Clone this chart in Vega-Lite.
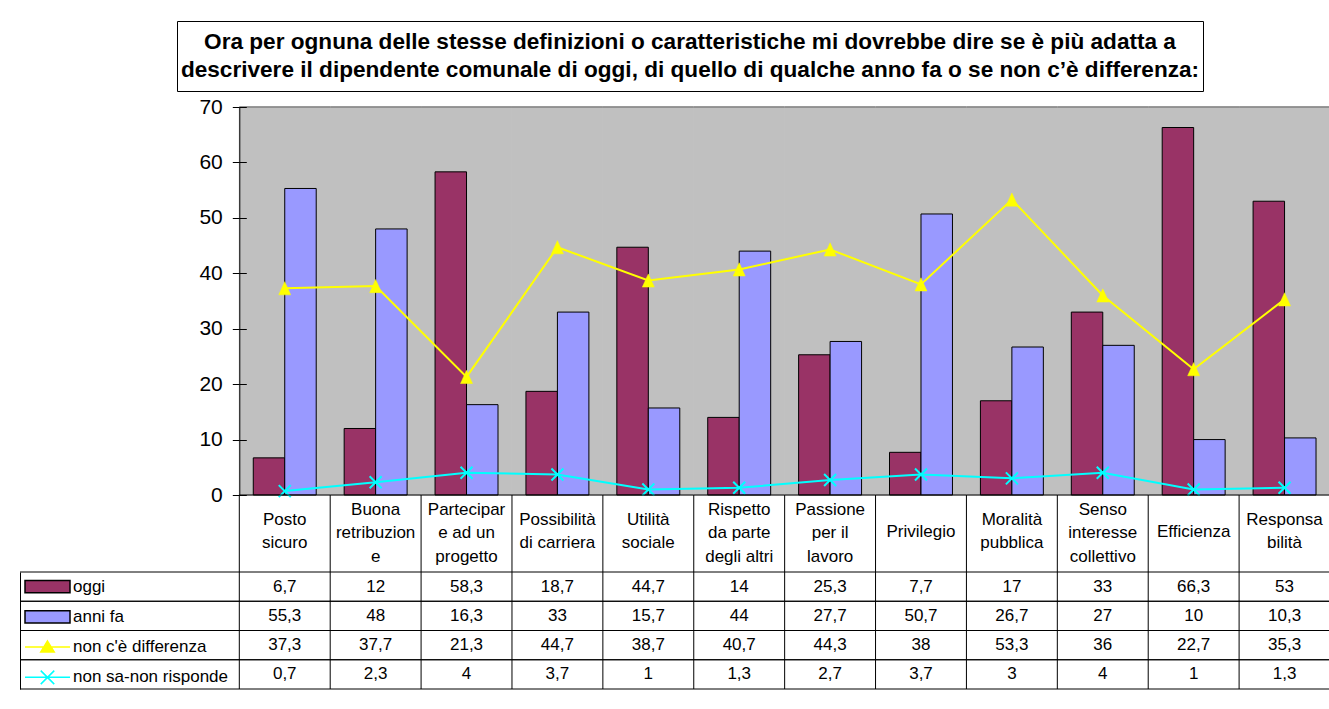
{
  "$schema": "https://vega.github.io/schema/vega-lite/v6.json",
  "padding": {"left": 19, "top": 20, "right": 0, "bottom": 0},
  "background": "white",
  "config": {
    "view": {"stroke": null},
    "font": "Arial",
    "locale": {"number": {"decimal": ",", "thousands": ".", "grouping": [3], "currency": ["€", ""]}}
  },
  "datasets": {
    "t": [
      {"cat": "Posto\nsicuro", "series": "oggi", "value": 6.7},
      {"cat": "Buona\nretribuzion\ne", "series": "oggi", "value": 12},
      {"cat": "Partecipar\ne ad un\nprogetto", "series": "oggi", "value": 58.3},
      {"cat": "Possibilità\ndi carriera", "series": "oggi", "value": 18.7},
      {"cat": "Utilità\nsociale", "series": "oggi", "value": 44.7},
      {"cat": "Rispetto\nda parte\ndegli altri", "series": "oggi", "value": 14},
      {"cat": "Passione\nper il\nlavoro", "series": "oggi", "value": 25.3},
      {"cat": "Privilegio", "series": "oggi", "value": 7.7},
      {"cat": "Moralità\npubblica", "series": "oggi", "value": 17},
      {"cat": "Senso\ninteresse\ncollettivo", "series": "oggi", "value": 33},
      {"cat": "Efficienza", "series": "oggi", "value": 66.3},
      {"cat": "Responsa\nbilità", "series": "oggi", "value": 53},
      {"cat": "Posto\nsicuro", "series": "anni fa", "value": 55.3},
      {"cat": "Buona\nretribuzion\ne", "series": "anni fa", "value": 48},
      {"cat": "Partecipar\ne ad un\nprogetto", "series": "anni fa", "value": 16.3},
      {"cat": "Possibilità\ndi carriera", "series": "anni fa", "value": 33},
      {"cat": "Utilità\nsociale", "series": "anni fa", "value": 15.7},
      {"cat": "Rispetto\nda parte\ndegli altri", "series": "anni fa", "value": 44},
      {"cat": "Passione\nper il\nlavoro", "series": "anni fa", "value": 27.7},
      {"cat": "Privilegio", "series": "anni fa", "value": 50.7},
      {"cat": "Moralità\npubblica", "series": "anni fa", "value": 26.7},
      {"cat": "Senso\ninteresse\ncollettivo", "series": "anni fa", "value": 27},
      {"cat": "Efficienza", "series": "anni fa", "value": 10},
      {"cat": "Responsa\nbilità", "series": "anni fa", "value": 10.3},
      {"cat": "Posto\nsicuro", "series": "non c'è differenza", "value": 37.3},
      {"cat": "Buona\nretribuzion\ne", "series": "non c'è differenza", "value": 37.7},
      {"cat": "Partecipar\ne ad un\nprogetto", "series": "non c'è differenza", "value": 21.3},
      {"cat": "Possibilità\ndi carriera", "series": "non c'è differenza", "value": 44.7},
      {"cat": "Utilità\nsociale", "series": "non c'è differenza", "value": 38.7},
      {"cat": "Rispetto\nda parte\ndegli altri", "series": "non c'è differenza", "value": 40.7},
      {"cat": "Passione\nper il\nlavoro", "series": "non c'è differenza", "value": 44.3},
      {"cat": "Privilegio", "series": "non c'è differenza", "value": 38},
      {"cat": "Moralità\npubblica", "series": "non c'è differenza", "value": 53.3},
      {"cat": "Senso\ninteresse\ncollettivo", "series": "non c'è differenza", "value": 36},
      {"cat": "Efficienza", "series": "non c'è differenza", "value": 22.7},
      {"cat": "Responsa\nbilità", "series": "non c'è differenza", "value": 35.3},
      {"cat": "Posto\nsicuro", "series": "non sa-non risponde", "value": 0.7},
      {"cat": "Buona\nretribuzion\ne", "series": "non sa-non risponde", "value": 2.3},
      {"cat": "Partecipar\ne ad un\nprogetto", "series": "non sa-non risponde", "value": 4},
      {"cat": "Possibilità\ndi carriera", "series": "non sa-non risponde", "value": 3.7},
      {"cat": "Utilità\nsociale", "series": "non sa-non risponde", "value": 1},
      {"cat": "Rispetto\nda parte\ndegli altri", "series": "non sa-non risponde", "value": 1.3},
      {"cat": "Passione\nper il\nlavoro", "series": "non sa-non risponde", "value": 2.7},
      {"cat": "Privilegio", "series": "non sa-non risponde", "value": 3.7},
      {"cat": "Moralità\npubblica", "series": "non sa-non risponde", "value": 3},
      {"cat": "Senso\ninteresse\ncollettivo", "series": "non sa-non risponde", "value": 4},
      {"cat": "Efficienza", "series": "non sa-non risponde", "value": 1},
      {"cat": "Responsa\nbilità", "series": "non sa-non risponde", "value": 1.3}
    ]
  },
  "spacing": 4,
  "bounds": "full",
  "vconcat": [
    {
      "spacing": 0,
      "bounds": "flush",
      "hconcat": [
        {
          "width": 157, "height": 70,
          "data": {"values": [{}]},
          "mark": {"type": "point", "opacity": 0}
        },
        {
          "width": 1026, "height": 70,
          "view": {"stroke": "black", "strokeWidth": 1, "fill": "white"},
          "data": {"values": [{"t": "Ora per ognuna delle stesse definizioni o caratteristiche mi dovrebbe dire se è più adatta a\ndescrivere il dipendente comunale di oggi, di quello di qualche anno fa o se non c’è differenza:"}]},
          "mark": {"type": "text", "font": "Arial", "fontSize": 22.6, "fontWeight": "bold", "lineBreak": "\n", "lineHeight": 28, "align": "center", "baseline": "middle", "dy": -14, "color": "black"},
          "encoding": {"text": {"field": "t", "type": "nominal"}}
        }
      ]
    },
    {
      "spacing": 0,
      "bounds": "flush",
      "resolve": {
        "scale": {"fill": "independent", "stroke": "independent", "shape": "independent"},
        "legend": {"fill": "independent", "stroke": "independent", "shape": "independent"}
      },
      "vconcat": [
        {
          "width": 1310, "height": 388,
          "data": {"name": "t"},
          "encoding": {
            "x": {"field": "cat", "type": "nominal", "axis": null,
                  "scale": {"domain": ["Posto\nsicuro", "Buona\nretribuzion\ne", "Partecipar\ne ad un\nprogetto", "Possibilità\ndi carriera", "Utilità\nsociale", "Rispetto\nda parte\ndegli altri", "Passione\nper il\nlavoro", "Privilegio", "Moralità\npubblica", "Senso\ninteresse\ncollettivo", "Efficienza", "Responsa\nbilità"], "paddingInner": 0, "paddingOuter": 0, "range": [219.3, 1310]}}
          },
          "resolve": {"scale": {"y": "independent"}, "axis": {"y": "independent"}},
          "layer": [
            {
              "layer": [
                {
                  "transform": [{"filter": "datum.series === 'oggi'"}],
                  "mark": {"type": "rect", "fill": "#C0C0C0", "stroke": "#C0C0C0", "strokeWidth": 1},
                  "encoding": {
                    "y": {"datum": 70, "type": "quantitative",
                          "scale": {"domain": [0, 70], "nice": false, "zero": true},
                          "axis": {"orient": "left", "offset": -219.3, "values": [0, 10, 20, 30, 40, 50, 60, 70], "tickSize": 7, "labelPadding": 10, "labelFontSize": 21, "labelFont": "Arial", "labelColor": "black", "domainColor": "black", "tickColor": "black", "grid": false, "title": null, "zindex": 1, "labelFlush": false}},
                    "y2": {"datum": 0}
                  }
                },
                {
                  "transform": [{"filter": "datum.series === 'oggi'"}],
                  "mark": {"type": "rule", "stroke": "#808080", "strokeWidth": 1.5},
                  "encoding": {
                    "x": {"field": "cat", "type": "nominal", "bandPosition": 0},
                    "x2": {"field": "cat", "bandPosition": 1},
                    "y": {"datum": 70, "type": "quantitative"}
                  }
                },
                {
                  "transform": [{"filter": "datum.series === 'oggi' || datum.series === 'anni fa'"}],
                  "mark": {"type": "bar", "stroke": "black", "strokeWidth": 1},
                  "encoding": {
                    "xOffset": {"field": "series", "type": "nominal", "scale": {"domain": ["oggi", "anni fa"], "paddingInner": 0, "paddingOuter": 0.444}},
                    "y": {"field": "value", "type": "quantitative"},
                    "fill": {"condition": {"test": "datum.series === 'oggi'", "value": "#993366"}, "value": "#9999FF"}
                  }
                },
                {
                  "transform": [{"filter": "datum.series === \"non c'è differenza\""}],
                  "mark": {"type": "line", "stroke": "#FFFF00", "strokeWidth": 2},
                  "encoding": {"y": {"field": "value", "type": "quantitative"}, "order": {"value": null}}
                },
                {
                  "transform": [{"filter": "datum.series === \"non c'è differenza\""}],
                  "mark": {"type": "point", "shape": "M0,-1.1L1,1.1L-1,1.1Z", "filled": true, "fill": "#FFFF00", "stroke": "#FFFF00", "strokeWidth": 0.5, "size": 144, "opacity": 1},
                  "encoding": {"y": {"field": "value", "type": "quantitative"}}
                },
                {
                  "transform": [{"filter": "datum.series === 'non sa-non risponde'"}],
                  "mark": {"type": "line", "stroke": "#00FFFF", "strokeWidth": 2},
                  "encoding": {"y": {"field": "value", "type": "quantitative"}, "order": {"value": null}}
                },
                {
                  "transform": [{"filter": "datum.series === 'non sa-non risponde'"}],
                  "mark": {"type": "point", "shape": "M-1,-1L1,1M-1,1L1,-1", "filled": false, "stroke": "#00FFFF", "strokeWidth": 2, "size": 144, "opacity": 1},
                  "encoding": {"y": {"field": "value", "type": "quantitative"}}
                }
              ]
            },
            {
              "transform": [{"filter": "datum.series === 'oggi'"}],
              "mark": {"type": "rule", "stroke": "black", "strokeWidth": 1},
              "encoding": {
                "x": {"field": "cat", "type": "nominal", "bandPosition": 0},
                "x2": {"field": "cat", "bandPosition": 1},
                "y": {"datum": 0, "type": "quantitative",
                      "scale": {"domain": [0, 70], "nice": false, "zero": true},
                      "axis": {"orient": "left", "offset": -219.3, "values": [0, 10, 20, 30, 40, 50, 60, 70], "tickSize": -7, "labels": false, "domain": false, "tickColor": "black", "grid": false, "title": null, "zindex": 1}}
              }
            }
          ]
        },
        {
          "width": 1310, "height": 77,
          "data": {"name": "t"},
          "transform": [{"filter": "datum.series === 'oggi'"}],
          "encoding": {
            "x": {"field": "cat", "type": "nominal", "axis": null,
                  "scale": {"domain": ["Posto\nsicuro", "Buona\nretribuzion\ne", "Partecipar\ne ad un\nprogetto", "Possibilità\ndi carriera", "Utilità\nsociale", "Rispetto\nda parte\ndegli altri", "Passione\nper il\nlavoro", "Privilegio", "Moralità\npubblica", "Senso\ninteresse\ncollettivo", "Efficienza", "Responsa\nbilità"], "paddingInner": 0, "paddingOuter": 0, "range": [219.3, 1310]}}
          },
          "layer": [
            {
              "mark": {"type": "rule", "stroke": "black", "strokeWidth": 1},
              "encoding": {"x": {"field": "cat", "type": "nominal", "bandPosition": 0}}
            },
            {
              "transform": [{"filter": "length(split(datum.cat, '\\n')) === 1"}],
              "mark": {"type": "text", "font": "Arial", "fontSize": 17, "lineBreak": "\n", "lineHeight": 23, "align": "center", "baseline": "middle", "dy": -2, "color": "black"},
              "encoding": {"text": {"field": "cat", "type": "nominal"}}
            },
            {
              "transform": [{"filter": "length(split(datum.cat, '\\n')) === 2"}],
              "mark": {"type": "text", "font": "Arial", "fontSize": 17, "lineBreak": "\n", "lineHeight": 23, "align": "center", "baseline": "middle", "dy": -13.5, "color": "black"},
              "encoding": {"text": {"field": "cat", "type": "nominal"}}
            },
            {
              "transform": [{"filter": "length(split(datum.cat, '\\n')) === 3"}],
              "mark": {"type": "text", "font": "Arial", "fontSize": 17, "lineBreak": "\n", "lineHeight": 23.5, "align": "center", "baseline": "middle", "dy": -24, "color": "black"},
              "encoding": {"text": {"field": "cat", "type": "nominal"}}
            }
          ]
        },
        {
          "width": 1310, "height": 117,
          "data": {"name": "t"},
          "layer": [
            {
              "transform": [{"filter": "datum.series === 'oggi'"}],
              "mark": {"type": "rule", "stroke": "black", "strokeWidth": 1},
              "encoding": {
                "x": {"field": "cat", "type": "nominal", "bandPosition": 0, "axis": null,
                      "scale": {"domain": ["Posto\nsicuro", "Buona\nretribuzion\ne", "Partecipar\ne ad un\nprogetto", "Possibilità\ndi carriera", "Utilità\nsociale", "Rispetto\nda parte\ndegli altri", "Passione\nper il\nlavoro", "Privilegio", "Moralità\npubblica", "Senso\ninteresse\ncollettivo", "Efficienza", "Responsa\nbilità"], "paddingInner": 0, "paddingOuter": 0, "range": [219.3, 1310]}}
              }
            },
            {
              "transform": [{"filter": "datum.cat === 'Efficienza'"}],
              "mark": {"type": "rule", "stroke": "black", "strokeWidth": 1},
              "encoding": {
                "y": {"field": "series", "type": "nominal", "bandPosition": 0,
                      "scale": {"domain": ["oggi", "anni fa", "non c'è differenza", "non sa-non risponde"], "paddingInner": 0, "paddingOuter": 0},
                      "axis": {"domain": true, "domainColor": "black", "domainWidth": 1, "labels": false, "ticks": false, "grid": false, "title": null}}
              }
            },
            {
              "transform": [{"filter": "datum.cat === 'Efficienza'"}],
              "mark": {"type": "rule", "stroke": "black", "strokeWidth": 1},
              "encoding": {"y": {"field": "series", "type": "nominal", "bandPosition": 1}}
            },
            {
              "mark": {"type": "text", "font": "Arial", "fontSize": 17, "align": "center", "baseline": "middle", "color": "black"},
              "encoding": {
                "x": {"field": "cat", "type": "nominal"},
                "y": {"field": "series", "type": "nominal"},
                "text": {"field": "value", "type": "quantitative", "format": ".3~g"}
              }
            },
            {
              "transform": [{"filter": "datum.cat === 'Efficienza'"}],
              "mark": {"type": "point", "opacity": 0, "filled": true},
              "encoding": {
                "fill": {"field": "series", "type": "nominal",
                         "scale": {"domain": ["oggi", "anni fa", "non c'è differenza", "non sa-non risponde"], "range": ["#993366", "#9999FF", "#FFFF00", "#00FFFF"]},
                         "legend": {"title": null, "orient": "none", "legendX": 4, "legendY": 6.6, "symbolSize": 2025, "symbolStrokeWidth": 1.5, "symbolOpacity": 1, "clipHeight": 16, "rowPadding": 13.25, "labelFontSize": 17, "labelFont": "Arial", "labelColor": "black", "labelOffset": 2, "padding": 0, "labelLimit": 300}},
                "stroke": {"field": "series", "type": "nominal",
                           "scale": {"domain": ["oggi", "anni fa", "non c'è differenza", "non sa-non risponde"], "range": ["black", "black", "#FFFF00", "#00FFFF"]},
                           "legend": {"title": null, "orient": "none", "legendX": 4, "legendY": 6.6, "symbolSize": 2025, "symbolStrokeWidth": 1.5, "symbolOpacity": 1, "clipHeight": 16, "rowPadding": 13.25, "labelFontSize": 17, "labelFont": "Arial", "labelColor": "black", "labelOffset": 2, "padding": 0, "labelLimit": 300}},
                "shape": {"field": "series", "type": "nominal",
                          "scale": {"domain": ["oggi", "anni fa", "non c'è differenza", "non sa-non risponde"], "range": ["M-1,-0.27L1,-0.27L1,0.27L-1,0.27Z", "M-1,-0.27L1,-0.27L1,0.27L-1,0.27Z", "M-1,0L1,0M0,-0.27L0.3,0.22L-0.3,0.22Z", "M-1,0L1,0M-0.3,-0.3L0.3,0.3M-0.3,0.3L0.3,-0.3"]},
                          "legend": {"title": null, "orient": "none", "legendX": 4, "legendY": 6.6, "symbolSize": 2025, "symbolStrokeWidth": 1.5, "symbolOpacity": 1, "clipHeight": 16, "rowPadding": 13.25, "labelFontSize": 17, "labelFont": "Arial", "labelColor": "black", "labelOffset": 2, "padding": 0, "labelLimit": 300}}
              }
            }
          ]
        }
      ]
    }
  ]
}
